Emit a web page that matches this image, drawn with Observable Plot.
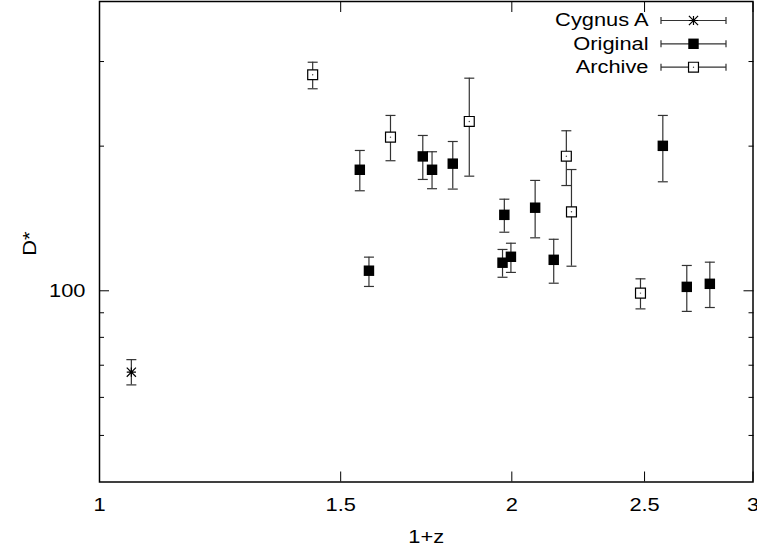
<!DOCTYPE html>
<html><head><meta charset="utf-8">
<script src="https://cdn.jsdelivr.net/npm/d3@7"></script>
<script src="https://cdn.jsdelivr.net/npm/@observablehq/plot@0.6"></script>
<style>body{margin:0;background:#fff;}</style>
</head><body><div id="chart"></div>
<script>
const seriesNames = ["Cygnus A", "Original", "Archive"];

const cygnusX  = [1.055];
const cygnusY  = [67.7];
const cygnusLo = [63.7];
const cygnusHi = [71.9];

const originalX  = [1.549, 1.573, 1.722, 1.749, 1.811, 1.975, 1.969, 1.997, 2.080, 2.146, 2.578, 2.684, 2.790];
const originalY  = [178.6, 110.1, 190.4, 178.6, 183.9, 143.9, 114.4, 117.7, 148.9, 116.0, 200.3, 101.9, 103.4];
const originalLo = [161.5, 102.1, 170.5, 163.1, 162.8, 132.4, 106.7, 109.2, 128.9, 103.7, 168.6, 90.6, 92.3];
const originalHi = [195.9, 117.5, 210.5, 194.7, 204.5, 155.1, 121.9, 125.6, 169.7, 128.0, 231.7, 112.9, 114.7];

const archiveX  = [1.431, 1.631, 1.862, 2.192, 2.211, 2.483];
const archiveY  = [281.6, 208.8, 225.1, 190.6, 146.0, 98.9];
const archiveLo = [263.3, 186.5, 173.2, 165.6, 112.5, 91.7];
const archiveHi = [299.0, 231.7, 277.0, 215.3, 178.8, 105.9];

const xTicks = [1, 1.5, 2, 2.5, 3];
const yMajorTicks = [100];
const yMinorTicks = [50, 60, 70, 80, 90, 200, 300];
const xLabel = "1+z";
const yLabel = "D*";

const rows = (X, Y, Lo, Hi) => X.map((x, i) => ({x, y: Y[i], lo: Lo[i], hi: Hi[i]}));
const cygnus = rows(cygnusX, cygnusY, cygnusLo, cygnusHi);
const original = rows(originalX, originalY, originalLo, originalHi);
const archive = rows(archiveX, archiveY, archiveLo, archiveHi);

const barColor = "#333";
const capSymbol = {draw(ctx) { ctx.moveTo(-5, 0); ctx.lineTo(5, 0); }};
const starSymbol = {draw(ctx) {
  const h = 4.6;
  ctx.moveTo(-h, 0); ctx.lineTo(h, 0);
  ctx.moveTo(0, -h); ctx.lineTo(0, h);
  ctx.moveTo(-h, -h); ctx.lineTo(h, h);
  ctx.moveTo(-h, h); ctx.lineTo(h, -h);
}};
const legendBar = {draw(ctx) {
  const w = 32.5, c = 3.5;
  ctx.moveTo(-w, 0); ctx.lineTo(w, 0);
  ctx.moveTo(-w, -c); ctx.lineTo(-w, c);
  ctx.moveTo(w, -c); ctx.lineTo(w, c);
}};

function errMarks(data) {
  return [
    Plot.ruleX(data, {x: "x", y1: "lo", y2: "hi", stroke: barColor, strokeWidth: 1.2}),
    Plot.dot(data, {x: "x", y: "lo", symbol: capSymbol, fill: "none", stroke: barColor, strokeWidth: 1.2}),
    Plot.dot(data, {x: "x", y: "hi", symbol: capSymbol, fill: "none", stroke: barColor, strokeWidth: 1.2})
  ];
}

const symbolStyles = [
  {symbol: starSymbol, fill: "none", stroke: "black", strokeWidth: 1.2},
  {symbol: "square", r: 5.9, fill: "black", stroke: "none"},
  {symbol: "square", r: 5.6, fill: "white", stroke: "black", strokeWidth: 1.2}
];

const legendDy = [19, 42.3, 65.7];
const legendMarks = [];
seriesNames.forEach((name, i) => {
  legendMarks.push(Plot.text([name], {frameAnchor: "top-left", dx: 549, dy: legendDy[i], textAnchor: "end", lineAnchor: "middle"}));
  legendMarks.push(Plot.dot([name], {frameAnchor: "top-left", dx: 594, dy: legendDy[i], symbol: legendBar, fill: "none", stroke: barColor, strokeWidth: 1.2}));
  legendMarks.push(Plot.dot([name], {frameAnchor: "top-left", dx: 594, dy: legendDy[i], ...symbolStyles[i]}));
  if (i === 2) legendMarks.push(Plot.dot([name], {frameAnchor: "top-left", dx: 594, dy: legendDy[i], r: 0.7, fill: "#444"}));
});

const chart = Plot.plot({
  width: 757,
  height: 552,
  marginLeft: 99,
  marginRight: 4.5,
  marginTop: 1,
  marginBottom: 70.5,
  x: {type: "log", domain: [1, 3]},
  y: {type: "log", domain: [40, 400]},
  style: {fontFamily: "'Liberation Sans', Arial, sans-serif", fontSize: "18.5px", background: "white", color: "black"},
  marks: [
    Plot.axisX(xTicks, {anchor: "bottom", tickSize: -10, tickPadding: 25.5, tickFormat: d => String(d), label: null}),
    Plot.axisX(xTicks, {anchor: "top", tickSize: -10, tickFormat: () => "", label: null}),
    Plot.axisY(yMajorTicks, {anchor: "left", tickSize: -10, tickPadding: 24, tickFormat: d => String(d), label: null}),
    Plot.axisY(yMinorTicks, {anchor: "left", tickSize: -5, tickFormat: () => "", label: null}),
    Plot.axisY(yMajorTicks, {anchor: "right", tickSize: -10, tickFormat: () => "", label: null}),
    Plot.axisY(yMinorTicks, {anchor: "right", tickSize: -5, tickFormat: () => "", label: null}),
    Plot.frame({stroke: "black", strokeWidth: 1.5}),
    Plot.text([xLabel], {frameAnchor: "bottom", dy: 55.5, lineAnchor: "middle"}),
    Plot.text([yLabel], {frameAnchor: "left", dx: -69, dy: 14, rotate: -90, lineAnchor: "middle"}),
    ...errMarks(cygnus),
    ...errMarks(original),
    ...errMarks(archive),
    Plot.dot(cygnus, {x: "x", y: "y", ...symbolStyles[0]}),
    Plot.dot(original, {x: "x", y: "y", ...symbolStyles[1]}),
    Plot.dot(archive, {x: "x", y: "y", ...symbolStyles[2]}),
    Plot.dot(archive, {x: "x", y: "y", r: 0.7, fill: "#444"}),
    ...legendMarks
  ]
});

chart.querySelectorAll("text").forEach(t => {
  const tr = t.getAttribute("transform") || "";
  t.setAttribute("transform", tr + " scale(1.18,1)");
});

document.getElementById("chart").appendChild(chart);
</script>
</body></html>
